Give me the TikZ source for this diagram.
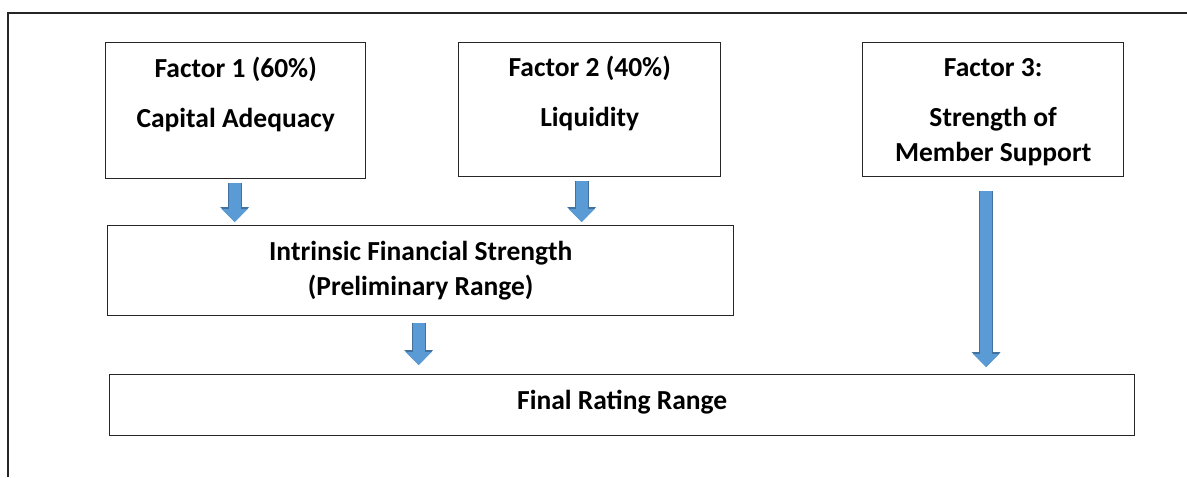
\documentclass[tikz,border=0pt]{standalone}
\usepackage{fontspec}
\setmainfont{Carlito}
\usetikzlibrary{arrows.meta,positioning}
\definecolor{arrowblue}{RGB}{91,155,213}
\definecolor{arrowedge}{RGB}{65,113,156}
\definecolor{boxline}{RGB}{38,38,38}
\newcommand{\tailstrut}[1][6pt]{\rule[-#1]{0pt}{#1}}
\tikzset{
  factor box/.style={
    rectangle, draw=boxline, line width=1.4pt, fill=white,
    align=center, inner sep=0pt, anchor=north west,
    font=\bfseries\fontsize{27.5}{35}\selectfont
  },
  flow arrow/.style={
    line width=12pt, arrowblue,
    -{Triangle[length=13pt,width=26pt,line width=0pt]},
    preaction={draw=arrowedge, line width=14pt,
      -{Triangle[length=15pt,width=29pt,line width=0pt]}}
  },
  frame line/.style={draw=boxline, line width=1.4pt}
}

\begin{document}
\begin{tikzpicture}[x=1pt, y=-1pt]
    \useasboundingbox (0,0) rectangle (1187,477);
    % outer frame
    \draw[frame line] (8,477) -- (8,13) -- (1187,13);
    % rating factors
    \node[factor box, minimum width=260pt, minimum height=136pt] (fac1) at (105,42)
      {\strut Factor 1 (60\%)\\[15pt]Capital Adequacy\\\tailstrut};
    \node[factor box, minimum width=262pt, minimum height=134pt] (fac2) at (458,42)
      {\strut Factor 2 (40\%)\\[15pt]Liquidity\\\tailstrut};
    \node[factor box, minimum width=261pt, minimum height=134pt] (fac3) at (862,42)
      {\strut Factor 3:\\[15pt]Strength of\\Member Support\tailstrut};
    \node[factor box, minimum width=626pt, minimum height=90pt] (intr) at (107,225)
      {\strut Intrinsic Financial Strength\\(Preliminary Range)\strut};
    \node[factor box, minimum width=1025pt, minimum height=61pt] (final) at (109,374)
      {Final Rating Range\tailstrut[11pt]};
    % block arrows
    \draw[flow arrow, shorten <=4pt, shorten >=3pt] ([xshift=-1pt]fac1.south) -- ([xshift=-1pt]fac1.south |- intr.north);
    \draw[flow arrow, shorten <=4pt, shorten >=3pt] ([xshift=-8pt]fac2.south) -- ([xshift=-8pt]fac2.south |- intr.north);
    \draw[flow arrow, shorten <=7pt, shorten >=9pt] ([xshift=-2pt]intr.south) -- ([xshift=-2pt]intr.south |- final.north);
    \draw[flow arrow, shorten <=14pt, shorten >=7pt] ([xshift=-7pt]fac3.south) -- ([xshift=-7pt]fac3.south |- final.north);
  \end{tikzpicture}
\end{document}
